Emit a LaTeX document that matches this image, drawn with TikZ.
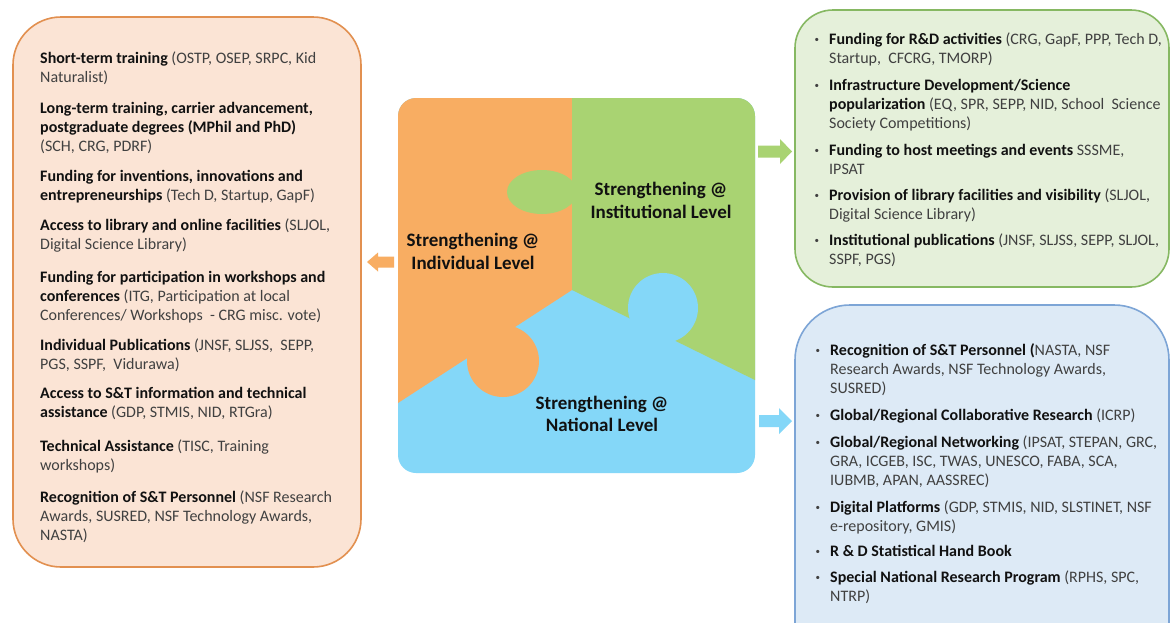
\documentclass[tikz,border=0pt]{standalone}
\usepackage{fontspec}
\setmainfont{Carlito}
\definecolor{pOrange}{HTML}{F8AD62}
\definecolor{pGreen}{HTML}{A9D372}
\definecolor{pBlue}{HTML}{84D7F8}
\definecolor{lFill}{HTML}{FBE4D5}
\definecolor{lBorder}{HTML}{E29050}
\definecolor{gFill}{HTML}{E5F0DA}
\definecolor{gBorder}{HTML}{86B862}
\definecolor{bFill}{HTML}{DDEAF6}
\definecolor{bBorder}{HTML}{7DA5D6}
\definecolor{txtgray}{HTML}{404040}
\definecolor{txtdark}{HTML}{111111}
\newcommand\hd[1]{{\color{txtdark}\bfseries #1}}
\newcommand\bul{\llap{\raisebox{1.5pt}{\fontsize{9}{9}\selectfont •}\hspace{10pt}}}
\begin{document}
\begin{tikzpicture}[x=1pt,y=-1pt,
  txt/.style={anchor=base west, inner sep=0pt, align=left, font=\fontsize{16}{19}\selectfont, text=txtgray},
  puz/.style={align=center, inner sep=0pt, font=\fontsize{19}{22.5}\selectfont\bfseries, text=txtdark},
  lbox/.style={fill=lFill, draw=lBorder, line width=1.6pt, rounded corners=48pt},
  gbox/.style={fill=gFill, draw=gBorder, line width=1.6pt, rounded corners=38pt},
  bbox/.style={fill=bFill, draw=bBorder, line width=1.6pt, rounded corners=55pt}]
\useasboundingbox (0,0) rectangle (1171,622);
\fill[white] (0,0) rectangle (1171,622);

% side boxes
\draw[lbox] (13,17) rectangle (361,567);
\draw[gbox] (795,10) rectangle (1169,287);
\draw[bbox] (795,305) rectangle (1169,680);

% puzzle
\begin{scope}
\clip[rounded corners=18pt] (398,98) rectangle (755,473);
\fill[pBlue] (390,90) rectangle (760,480);
\fill[pOrange] (390,90) -- (572,90) -- (572,290) -- (390,408.2) -- cycle;
\fill[pGreen] (572,90) -- (760,90) -- (760,382.5) -- (572,290) -- cycle;
\fill[pGreen] (542,192) ellipse [x radius=35, y radius=22];
\fill[pBlue] (663,308) circle (35);
\fill[pOrange] (503,361) circle (36);
\end{scope}

\node[puz] (ind) at (473,251.5) {Strengthening @\\Individual Level};
\node[puz] (ins) at (661,200.5) {Strengthening @\\Institutional Level};
\node[puz] (nat) at (602,414) {Strengthening @\\National Level};

% block arrows
\fill[pOrange] (367,262) -- (378,252.5) -- (378,256.5) -- (394,256.5) -- (394,267.5) -- (378,267.5) -- (378,271.5) -- cycle;
\fill[pGreen] (792,151.5) -- (780,139) -- (780,145.5) -- (758,145.5) -- (758,157.5) -- (780,157.5) -- (780,164) -- cycle;
\fill[pBlue] (792,421) -- (779,408) -- (779,415) -- (759,415) -- (759,427) -- (779,427) -- (779,434) -- cycle;

% left box text (anchor = baseline of last line)
\node[txt] (l1) at (40,82) {\hd{Short-term training} (OSTP, OSEP, SRPC, Kid\\Naturalist)};
\node[txt] (l2) at (40,151) {\hd{Long-term training, carrier advancement,}\\\hd{postgraduate degrees (MPhil and PhD)}\\(SCH, CRG, PDRF)};
\node[txt] (l3) at (40,200) {\hd{Funding for inventions, innovations and}\\\hd{entrepreneurships} (Tech D, Startup, GapF)};
\node[txt] (l4) at (40,249) {\hd{Access to library and online facilities} (SLJOL,\\Digital Science Library)};
\node[txt] (l5) at (40,320) {\hd{Funding for participation in workshops and}\\\hd{conferences} (ITG, Participation at local\\Conferences/ Workshops~ - CRG misc. vote)};
\node[txt] (l6) at (40,369) {\hd{Individual Publications} (JNSF, SLJSS,~ SEPP,\\PGS, SSPF,~ Vidurawa)};
\node[txt] (l7) at (40,417) {\hd{Access to S\&T information and technical}\\\hd{assistance} (GDP, STMIS, NID, RTGra)};
\node[txt] (l8) at (40,470) {\hd{Technical Assistance} (TISC, Training\\workshops)};
\node[txt] (l9) at (40,540) {\hd{Recognition of S\&T Personnel} (NSF Research\\Awards, SUSRED, NSF Technology Awards,\\NASTA)};

% green box text
\node[txt] (g1) at (829,63) {\bul\hd{Funding for R\&D activities} (CRG, GapF, PPP, Tech D,\\Startup,~ CFCRG, TMORP)};
\node[txt] (g2) at (829,128) {\bul\hd{Infrastructure Development/Science}\\\hd{popularization} (EQ, SPR, SEPP, NID, School~ Science\\Society Competitions)};
\node[txt] (g3) at (829,174) {\bul\hd{Funding to host meetings and events} SSSME,\\IPSAT};
\node[txt] (g4) at (829,219) {\bul\hd{Provision of library facilities and visibility} (SLJOL,\\Digital Science Library)};
\node[txt] (g5) at (829,264) {\bul\hd{Institutional publications} (JNSF, SLJSS, SEPP, SLJOL,\\SSPF, PGS)};

% blue box text
\node[txt] (b1) at (830,393) {\bul\hd{Recognition of S\&T Personnel (}NASTA, NSF\\Research Awards, NSF Technology Awards,\\SUSRED)};
\node[txt] (b2) at (830,420) {\bul\hd{Global/Regional Collaborative Research} (ICRP)};
\node[txt] (b3) at (830,485) {\bul\hd{Global/Regional Networking} (IPSAT, STEPAN, GRC,\\GRA, ICGEB, ISC, TWAS, UNESCO, FABA, SCA,\\IUBMB, APAN, AASSREC)};
\node[txt] (b4) at (830,531) {\bul\hd{Digital Platforms} (GDP, STMIS, NID, SLSTINET, NSF\\e-repository, GMIS)};
\node[txt] (b5) at (830,556) {\bul\hd{R \& D Statistical Hand Book}};
\node[txt] (b6) at (830,601) {\bul\hd{Special National Research Program} (RPHS, SPC,\\NTRP)};
\end{tikzpicture}
\end{document}
